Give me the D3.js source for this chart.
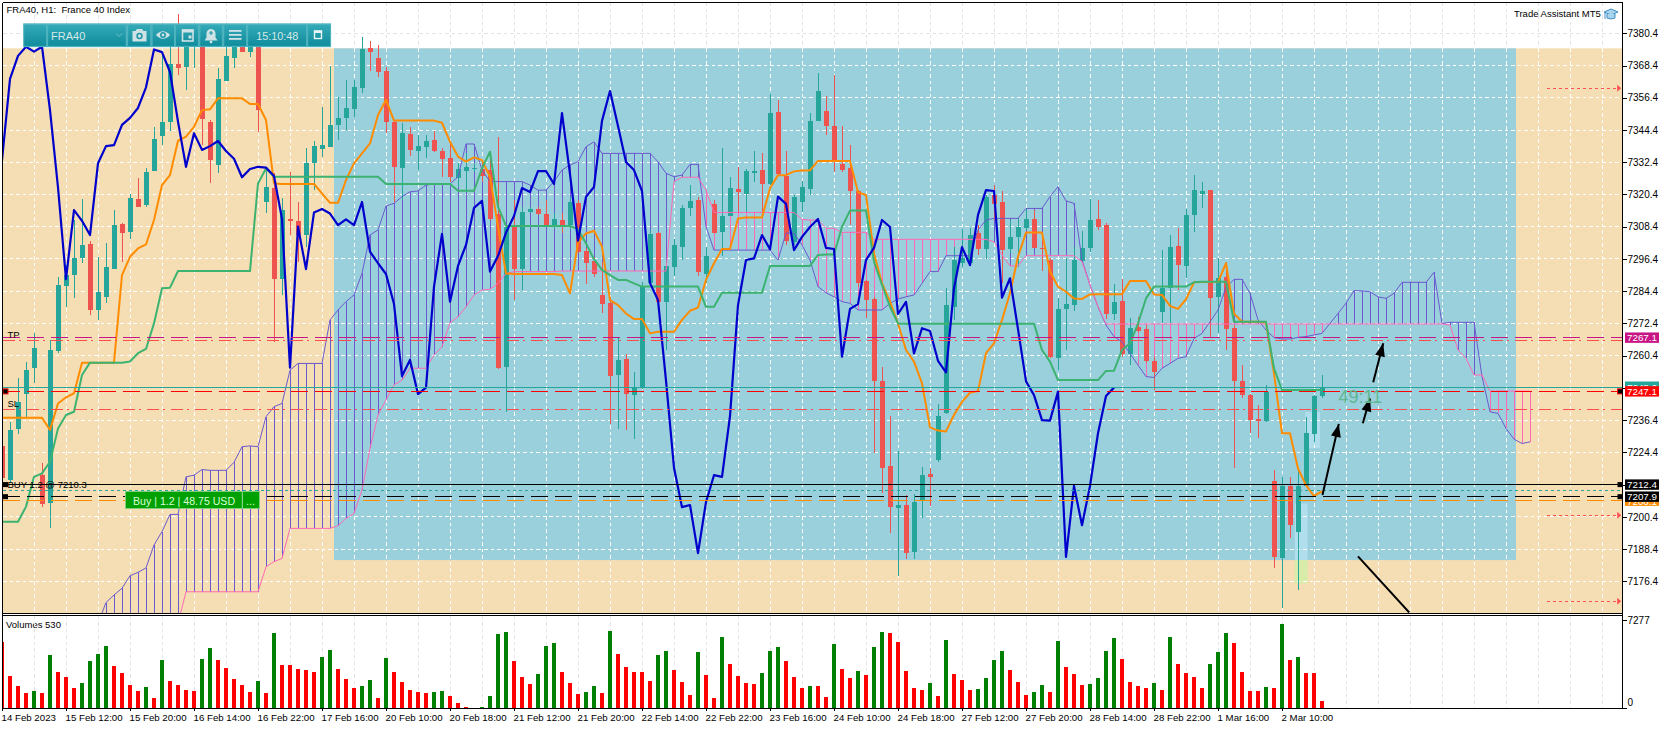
<!DOCTYPE html>
<html><head><meta charset="utf-8">
<script src="https://cdn.jsdelivr.net/npm/d3@7"></script>
<style>html,body{margin:0;padding:0;background:#fff;overflow:hidden}svg{display:block;font-family:"Liberation Sans",Arial,sans-serif}</style>
</head><body><svg id="c" width="1670" height="729"></svg>
<script>
const openV=[7226.7,7214.1,7233.1,7246.1,7255.7,7215.9,7205.4,7262.2,7286.4,7290.4,
7296.9,7302,7277.4,7282.3,7292.8,7309.4,7306.4,7318.6,7316.5,7329.1,
7342.3,7347.5,7368.8,7368,7376.7,7380.4,7347.5,7331.4,7362.8,7371.2,
7375.6,7373.3,7375.4,7317.6,7322.8,7288.9,7311.1,7310.5,7305.3,7332.2,
7337.4,7338.2,7346.3,7348.9,7352.3,7360,7374.8,7371.2,7366.4,7347.5,
7330.4,7342.8,7336.7,7338.2,7340.7,7336.6,7334,7326.7,7329.3,7330,
7329.9,7329.5,7313,7256.3,7308.4,7292.6,7313.9,7314.9,7313.1,7308.4,
7310.9,7309,7317.1,7299.5,7295.6,7283,7280.1,7253.2,7259.1,7245.7,
7248.2,7287.3,7305.9,7280.5,7293.5,7301,7315.2,7318.3,7290.8,7316.9,
7306.4,7312.4,7322.4,7320.6,7328.9,7329.5,7324.3,7351.1,7327.4,7302.8,
7317.6,7322.4,7347.8,7351.5,7345.9,7331.7,7330.3,7321.7,7288.2,7281.5,
7250.9,7219.3,7203.7,7204.8,7187.3,7206.6,7216.3,7221.5,7239,7278.6,
7294.8,7294.8,7305.9,7300,7320.2,7317.6,7300,7304.6,7307.9,7311.3,
7300.5,7296,7259.5,7277.8,7279.2,7295.6,7300.5,7311.3,7309,7275.9,
7280.7,7261.2,7271,7270.2,7258.4,7276.8,7285.5,7301.2,7293.8,7312.8,
7320.7,7322,7282.1,7289.8,7270.7,7250.9,7245.7,7236.7,7236,7213.7,
7185.2,7211.9,7194.9,7211.9,7231.2,7245.4];
const closeV=[7214.7,7232.7,7243,7255,7263.1,7205,7262.5,7286.7,7290.4,7296.6,
7301.6,7277.4,7284.1,7293.3,7309,7306.2,7319,7315.9,7328.8,7340.9,
7347.3,7368.8,7367.5,7380.4,7380.4,7348.6,7333.2,7363.4,7372,7375.4,
7373.6,7375.4,7351.8,7323,7288.9,7314.6,7310.6,7305.3,7332,7338.4,
7338.8,7346.3,7348.9,7352.6,7360.3,7374.4,7373.4,7366,7347.5,7330.7,
7343.2,7337,7338.4,7340.3,7336.6,7333.7,7326.8,7329.9,7330.7,7330.4,
7327.3,7311.3,7255.9,7308.4,7292.6,7313.7,7315,7313.3,7309,7311.1,
7309,7317.6,7299.1,7294.8,7290.8,7279.6,7252.8,7258.8,7246.1,7248.5,
7286.1,7305.7,7280.5,7293.8,7301.6,7315.4,7318,7291.7,7297.5,7306.2,
7312.4,7322.8,7321.3,7329.1,7329.1,7324.3,7350.7,7328,7303.2,7319.5,
7323.2,7347.8,7358.9,7345.9,7332.5,7329.5,7321.7,7287.4,7281.1,7251.1,
7218.7,7204,7204.8,7186.9,7205.9,7215.9,7215.3,7237.9,7279.2,7296,
7296.6,7305.3,7300,7319.6,7316.9,7299.7,7304.6,7308.3,7311.3,7300.5,
7300.1,7260,7277.8,7279.6,7296,7300.5,7310.9,7308.3,7275.9,7280.4,
7261.2,7270.6,7269.6,7258.5,7254.2,7285.5,7300.8,7294.1,7312.8,7322,
7321.7,7282,7289.2,7270.3,7250.9,7245.7,7236.4,7236.2,7247,7185.5,
7211.9,7197.3,7211.9,7231.5,7245.4,7248.5];
const highV=[7228,7235.6,7251.9,7258.1,7268.7,7220.3,7266.2,7289.8,7294.1,7310.9,
7318.6,7303.2,7297.2,7302.2,7314.6,7309.9,7320.4,7326.4,7330.1,7345.6,
7372.3,7375.4,7387.6,7381.6,7381.6,7381,7348.1,7367.4,7376.7,7380.4,
7380.4,7380.4,7379.1,7330.1,7328.3,7319,7328.9,7317.7,7337.6,7340.3,
7353.1,7368.2,7356.6,7363,7363,7379.1,7377.5,7376,7368,7348.1,
7346.9,7345.6,7342.5,7342.5,7344,7337.6,7339.4,7332,7335.7,7332,
7332,7336.3,7341.7,7308.4,7318.3,7315.9,7315.9,7315.9,7318.3,7313.4,
7313.4,7319.6,7318.3,7300.3,7297.2,7295.4,7282.3,7267.2,7261.2,7254.4,
7287.9,7307.2,7306.6,7296,7303.7,7316.5,7323.9,7319.6,7301,7318.3,
7337.6,7327,7330.7,7329.8,7336.6,7335.7,7357.8,7355.6,7336.6,7320.2,
7325.4,7350.9,7365.6,7357.1,7364.9,7345.9,7338.8,7322,7288.6,7282.3,
7256.2,7237.9,7224.9,7208.5,7208.9,7218.9,7218.6,7242.4,7285.5,7301,
7307.7,7307.8,7309,7320.2,7323.9,7321.7,7310.9,7311.5,7314.9,7314.6,
7305.9,7296.6,7281.7,7296.6,7301,7306.8,7318.6,7318.3,7309.7,7287.1,
7288.8,7274.3,7274.9,7271.8,7260,7299.7,7305.3,7307.8,7314.9,7327.6,
7325.2,7322,7296.6,7295.4,7271.8,7256.9,7246.3,7242,7249.5,7217.8,
7215.1,7215.1,7218.4,7237.7,7245.7,7253.2];
const lowV=[7213,7213,7231.1,7237.7,7250.4,7204.2,7196.1,7261.5,7278.6,7282,
7294.8,7275.5,7273.7,7280.1,7292.8,7295.4,7304,7315.6,7315.9,7329.1,
7338.8,7344.1,7365,7359.3,7367.4,7338.8,7324.8,7328.3,7362.8,7367.4,
7373.4,7371.7,7343.8,7313.4,7265.6,7283,7305.3,7295.4,7301,7322,
7334.5,7338.2,7340.7,7344.4,7349.4,7358,7366.5,7364,7343.4,7317.7,
7318.3,7334.8,7329.5,7333.8,7336.3,7327,7325.2,7323.3,7321.4,7328.9,
7325.2,7310.9,7255.4,7239.5,7281.1,7284.8,7313.4,7312.8,7308.4,7307.7,
7305.9,7307.2,7298.5,7287.1,7289.8,7276.1,7234.8,7233.1,7232.7,7229.4,
7248,7286.1,7279.2,7262.5,7290,7296,7312.4,7290,7287.3,7305.9,
7297.5,7312.4,7313.4,7313.4,7324.9,7314,7323.9,7327.6,7301.6,7301.6,
7314,7320.2,7347.8,7342.5,7328.8,7328.8,7309,7286.1,7274.4,7224.1,
7209.2,7194.4,7178.5,7184.7,7184.7,7199.9,7204.4,7220.8,7238.8,7273.7,
7293.5,7294.1,7297.9,7296.3,7310.9,7287.3,7298.5,7293.5,7307.2,7300.3,
7292,7259.4,7255,7262.5,7277.1,7295.4,7299.1,7307.2,7274,7273.7,
7260,7256.9,7268.7,7257.5,7247.6,7272.4,7272.4,7284.8,7289.2,7306.6,
7315.5,7267.5,7268.7,7262.5,7218.4,7244.5,7231.5,7229.8,7235.6,7181.4,
7166.6,7192.6,7173.1,7211.9,7228.3,7244.5];
const tenkan=[7237.3,7237.3,7237.3,7237.3,7237.3,7237.3,7232.7,7242.6,7244.9,7246.4,
7257.8,7257.8,7257.8,7257.8,7257.8,7290.4,7297.2,7300.3,7301.8,7310.9,
7323.9,7327.6,7340.4,7341.9,7345.6,7351.8,7352.1,7356.2,7356.2,7356.2,
7356.2,7354.1,7354.1,7348.1,7324.5,7324.3,7324.3,7324.3,7324.3,7324.3,
7320.8,7317.3,7317.3,7325.8,7332,7335.7,7339.4,7350,7355.6,7347.9,
7347.9,7347.9,7347.9,7347.9,7347.9,7347.1,7340,7334.5,7332.6,7334.2,
7333.2,7327,7308.4,7291,7290.8,7290.8,7290.8,7290.8,7290.8,7290.8,
7290.4,7283.6,7302.5,7305.9,7306.9,7301,7281.1,7279.2,7276.1,7274,
7274,7268.7,7269.3,7269.3,7269.3,7273.7,7277.1,7278.3,7288.6,7294.8,
7300.1,7300.1,7311.5,7311.8,7311.8,7311.8,7322.7,7327.6,7327.6,7329,
7329.3,7329.4,7332.9,7332.9,7332.9,7332.9,7332.9,7321.2,7320.2,7298.5,
7287.3,7280.5,7272.4,7262.5,7258.2,7250.1,7233.7,7232.5,7232.2,7238.3,
7243.2,7246.6,7247.2,7261.3,7265,7273.7,7283.6,7297.2,7306.2,7306.2,
7306.2,7291.7,7286.1,7284.2,7281.7,7281.5,7283.2,7283.3,7283.3,7283.3,
7283.3,7288.2,7288.2,7288.2,7283.2,7283,7278.9,7277.8,7281.4,7287.7,
7287.8,7287.8,7287.8,7294.8,7276.1,7273,7273,7273,7272.7,7253.8,
7231.5,7231.5,7218.4,7212.2,7208.1,7210];
const kijun=[7198.6,7198.6,7198.6,7204.2,7215.3,7216.6,7220.9,7233.3,7238.3,7239.5,
7253.2,7257.8,7257.8,7257.8,7257.8,7257.8,7258.2,7261.3,7262.9,7272.4,
7285.5,7285.7,7291.9,7291.9,7291.9,7291.9,7291.9,7291.9,7291.9,7291.9,
7291.9,7291.9,7324.5,7330.1,7327,7327,7327,7327,7327,7327,
7327,7327,7327,7327,7327,7327,7327,7327,7324.3,7324.3,
7324.3,7324.3,7324.3,7324.3,7324.3,7324.3,7324.3,7321.8,7321.8,7321.8,
7330.1,7336.3,7315.9,7308.7,7308.7,7308.7,7308.7,7308.7,7308.7,7308.7,
7308.7,7308.7,7307.4,7302.2,7296.3,7292.3,7290.4,7288.6,7288.6,7287.3,
7286.1,7286.1,7286.1,7286.1,7286.1,7286.1,7286.1,7286.1,7278.6,7278.6,
7283.8,7283.8,7283.8,7283.8,7283.8,7283.8,7293.8,7293.8,7293.8,7293.8,
7293.8,7293.8,7297.9,7298.1,7298.1,7308.4,7314.4,7314.4,7314.4,7295.4,
7286.7,7278.6,7272.4,7272.3,7272.3,7272.3,7272.3,7272.3,7272.3,7272.3,
7272.3,7272.3,7272.3,7272.3,7272.3,7272.3,7272.3,7272.3,7272.3,7272.3,
7262.5,7258.2,7251.3,7251.3,7251.3,7251.3,7251.3,7251.3,7254.7,7254.8,
7262.5,7265,7272.4,7281.7,7286.1,7286.1,7286.1,7286.1,7286.1,7287.7,
7287.9,7287.9,7287.9,7287.9,7273,7273,7273,7273,7273,7255.7,
7247.6,7247.6,7247.6,7247.6,7247.6,7247.6];
const chikou=[7333.2,7363.4,7372,7375.4,7373.6,7375.4,7351.8,7323,7288.9,7314.6,
7310.6,7305.3,7332,7338.4,7338.8,7346.3,7348.9,7352.6,7360.3,7374.4,
7373.4,7366,7347.5,7330.7,7343.2,7337,7338.4,7340.3,7336.6,7333.7,
7326.8,7329.9,7330.7,7330.4,7327.3,7311.3,7255.9,7308.4,7292.6,7313.7,
7315,7313.3,7309,7311.1,7309,7317.6,7299.1,7294.8,7290.8,7279.6,
7252.8,7258.8,7246.1,7248.5,7286.1,7305.7,7280.5,7293.8,7301.6,7315.4,
7318,7291.7,7297.5,7306.2,7312.4,7322.8,7321.3,7329.1,7329.1,7324.3,
7350.7,7328,7303.2,7319.5,7323.2,7347.8,7358.9,7345.9,7332.5,7329.5,
7321.7,7287.4,7281.1,7251.1,7218.7,7204,7204.8,7186.9,7205.9,7215.9,
7215.3,7237.9,7279.2,7296,7296.6,7305.3,7300,7319.6,7316.9,7299.7,
7304.6,7308.3,7311.3,7300.5,7300.1,7260,7277.8,7279.6,7296,7300.5,
7310.9,7308.3,7275.9,7280.4,7261.2,7270.6,7269.6,7258.5,7254.2,7285.5,
7300.8,7294.1,7312.8,7322,7321.7,7282,7289.2,7270.3,7250.9,7245.7,
7236.4,7236.2,7247,7185.5,7211.9,7197.3,7211.9,7231.5,7245.4,7248.5];
// Span arrays start at bar 12 and run to bar 191
const spanStart=12;
const spanA=[7160.7,7168.5,7171.3,7173.8,7178.5,7179.7,7181.4,7189.9,
7194.9,7201.3,7201.3,7215.3,7215.9,7218,7217.7,7217.7,7217.7,7220.7,
7226.5,7226.8,7226.5,7237.7,7241.4,7242.6,7255,7257.5,7257.5,7257.5,
7257.5,7273.7,7277.4,7280.5,7283,7291,7305.3,7307.2,7316.1,7317.1,
7319.6,7321.4,7321.7,7323.9,7324.3,7324.3,7324.3,7327,7339.2,7339.2,
7329.5,7325.2,7325.2,7325.2,7325.2,7325.2,7323.9,7322,7322,7325.2,
7329.5,7331.4,7332.6,7338.2,7340,7335.7,7335.7,7335.7,7335.7,7335.7,7335.7,7335.7,
7332.6,7328.3,7327,7327.6,7331.6,7331.6,7308.4,7299.7,
7299.7,7299.7,7299.7,7299.7,7299.7,7299.7,7299.7,7296,7306,7306,
7301.6,7296,7286.1,7283.8,7282.3,7280.5,7279.9,7277.4,7277.4,7277.4,
7277.4,7279.9,7281.5,7282.3,7283,7287.3,7291.7,7291.7,7297.6,7297.6,
7297.6,7297.6,7307.2,7310.9,7311.5,7311.5,7311.5,7311.5,7315.2,7315.2,
7315.2,7319.6,7323.3,7318,7317.1,7296,7286.7,7278.6,7271.8,7267.5,
7265.6,7261.2,7256.9,7252.6,7252.3,7255.7,7257.5,7259.4,7260,7266.8,
7268.7,7273,7277.4,7285.8,7288.8,7288.8,7283.6,7273.7,7269.9,7267.1,
7266.6,7266.6,7267.2,7267.5,7268.1,7268.7,7272.4,7276.1,7279.9,7284.6,
7284.5,7284.2,7282.3,7281.7,7283.6,7287.7,7287.7,7287.7,7287.7,7291.4,
7272.4,7272.8,7272.8,7272.8,7272.8,7252.6,7239.5,7238.9,7233.3,7229.3,
7227.7,7228.3];
const spanB=[7150,7150,7150,7150,7150,7150,7150,7150,
7150,7150,7160.7,7172.5,7172.5,7172.5,7172.5,7172.5,7172.5,7172.5,
7172.5,7172.5,7172.5,7181.8,7183.7,7184.9,7196.1,7196.1,7196.1,7196.1,
7196.1,7196.1,7197.1,7199.8,7201.7,7210.4,7225.9,7238.3,7243.9,7249.5,
7251.3,7255.7,7255.7,7255.7,7260.6,7263.7,7272.7,7274.9,7278.6,7283,
7284.8,7285.1,7287.3,7291,7291.7,7291.7,7291.7,7291.7,7291.7,7291.7,
7291.9,7291.9,7291.9,7291.9,7291.9,7291.9,7291.9,7291.9,7291.9,7291.9,7291.9,7291.9,
7291.9,7291.9,7325.2,7326.8,7326.8,7326.8,7322,7313.7,
7313.7,7313.7,7313.7,7313.7,7313.7,7313.7,7313.7,7313.7,7313.7,7313.7,
7311.1,7310.9,7310.9,7307.8,7307.8,7306.3,7306.3,7306.3,7306.3,7303.7,
7303.7,7303.7,7303.7,7303.7,7303.7,7303.7,7303.7,7303.7,7303.7,7303.7,
7303.7,7303.7,7303.7,7303.7,7302.8,7297.9,7293.8,7293.8,7297.6,7297.6,
7297.6,7297.6,7297.6,7297.6,7297.6,7295.4,7286.7,7278.6,7272.2,7272.2,
7272.2,7272.2,7272.2,7272.2,7272.2,7272.2,7272.2,7272.2,7272.2,7272.2,
7272.2,7272.2,7272.2,7272.2,7272.2,7272.2,7272.2,7272.2,7272.2,7272.2,
7272.2,7272.2,7272.2,7272.2,7272.2,7272.2,7272.2,7272.2,7272.2,7272.2,
7272.2,7272.2,7272.2,7272.2,7272.2,7272.2,7272.2,7272.2,7272.2,7272.2,
7272.2,7271.8,7262.5,7259.4,7253.2,7253.2,7247.2,7247.2,7247.2,7247.2,
7247.2,7247.2];
const volumes=[5490,2660,1840,1260,1430,1260,4390,2990,2580,1680,
2090,3900,4480,5140,3490,2910,1920,1430,1760,850,
3980,2250,1920,1510,1430,4060,4970,3980,3320,2420,
1920,1350,2250,1260,6210,3570,3560,3240,3160,2990,
4230,4810,3240,2420,1680,1840,2330,850,4150,2990,
2170,1510,1350,1260,1350,1430,1020,440,110,10,
110,1020,6120,6290,3900,2580,2000,2830,5140,5380,
2990,2090,1180,1350,1840,1260,6370,4480,3410,2990,
2980,2250,4390,4720,3160,2170,1100,4640,2750,850,
5880,3650,2660,2090,2000,2910,4720,5050,3900,2580,
1680,1840,1835,930,5300,3240,2500,3080,2750,5050,
6290,6210,5460,3080,1680,1510,2090,1020,5630,2830,
2330,1510,1590,2500,3980,4720,3160,2170,1100,1350,
1920,1350,5550,3410,2830,1920,2000,2500,4720,5790,
4060,2170,1840,1680,2090,1510,5880,3650,2910,2580,
1680,3650,4640,6210,5380,2990,1430,1425,1760,1680,
6950,3980,4230,2910,2905,600];
const priceTicks=[7380.4,7368.4,7356.4,7344.4,7332.4,7320.4,7308.4,7296.4,7284.4,7272.4,7260.4,7248.4,7236.4,7224.4,7212.4,7200.4,7188.4,7176.4];
const timeLabels=["14 Feb 2023","15 Feb 12:00","15 Feb 20:00","16 Feb 14:00","16 Feb 22:00","17 Feb 16:00","20 Feb 10:00","20 Feb 18:00","21 Feb 12:00","21 Feb 20:00","22 Feb 14:00","22 Feb 22:00","23 Feb 16:00","24 Feb 10:00","24 Feb 18:00","27 Feb 12:00","27 Feb 20:00","28 Feb 14:00","28 Feb 22:00","1 Mar 16:00","2 Mar 10:00"];
const levels={tp:7267.1,tpMark:7266.2,sl:7240.4,bid:7248.5,ask:7247.1,buy:7212.4,be:7210.1,pend:7207.9,orange:7206.3};

const L=3,R=1622.5,T=2.5,MB=613,VT=615.5,VB=708.3;
const svg=d3.select('#c');
const x=d3.scaleLinear().domain([0,1]).range([2,10]);
const y=d3.scaleLinear().domain([7176.4,7380.4]).range([581.3,33.3]);
const yv=d3.scaleLinear().domain([0,7277]).range([VB,620]);
const defs=svg.append('defs');
defs.append('clipPath').attr('id','main').append('rect').attr('x',L).attr('y',T).attr('width',R-L).attr('height',MB-T);
defs.append('clipPath').attr('id','vol').append('rect').attr('x',L).attr('y',VT).attr('width',R-L).attr('height',VB-VT);
const grad=defs.append('linearGradient').attr('id','tb').attr('x1',0).attr('x2',0).attr('y1',0).attr('y2',1);
grad.append('stop').attr('offset',0).attr('stop-color','#35aab8');
grad.append('stop').attr('offset',1).attr('stop-color','#0f8c9c');
const m=svg.append('g').attr('clip-path','url(#main)');

// backgrounds
const rectTop=7374.8, rectBottom=7184.3;
m.append('rect').attr('x',L).attr('y',y(rectTop)).attr('width',R-L).attr('height',MB-y(rectTop)).attr('fill','#f5deb3');
m.append('rect').attr('x',x(41.5)).attr('y',y(rectTop)).attr('width',x(189.25)-x(41.5)).attr('height',y(rectBottom)-y(rectTop)).attr('fill','#9acfdc');
// pale boxes
const box=(a,b,p1,p2,c)=>m.append('rect').attr('x',x(a)).attr('width',x(b)-x(a)).attr('y',y(p1)).attr('height',y(p2)-y(p1)).attr('fill',c);
box(161.6,163.2,7205.4,rectBottom,'#b0deec');
box(161.6,163.2,rectBottom,7175.6,'#d8ecaa');
box(162.9,164.75,7239.5,7225.9,'#b0deec');

// grid
const vIdx=d3.range(0,203,4);
const grid=(x1,x2,y1,y2,c)=>m.append('line').attr('x1',x1).attr('x2',x2).attr('y1',y1).attr('y2',y2).attr('stroke',c).attr('stroke-width',1).attr('stroke-dasharray','3.5,3').attr('shape-rendering','crispEdges');
vIdx.forEach(i=>{grid(x(i),x(i),T,y(rectTop),'#e4e4e4');grid(x(i),x(i),y(rectTop),MB,'#ffffff');});
priceTicks.forEach(p=>grid(L,R,y(p),y(p),p>rectTop?'#e4e4e4':'#ffffff'));

// cloud hatch
const UP='#6a5acd',DN='#ff69b4';
spanA.forEach((a,k)=>{const i=k+spanStart,b=spanB[k];
 if(i<13)return;
 m.append('line').attr('x1',x(i)).attr('x2',x(i)).attr('y1',y(a)).attr('y2',y(b)).attr('stroke',a>=b?UP:DN).attr('stroke-width',1).attr('shape-rendering','crispEdges');});

// candles
const G='#26a69a',Rd='#ef5350';
openV.forEach((o,i)=>{const c=closeV[i],col=c>=o?G:Rd;
 m.append('line').attr('x1',x(i)).attr('x2',x(i)).attr('y1',y(highV[i])).attr('y2',y(lowV[i])).attr('stroke',col).attr('stroke-width',1).attr('shape-rendering','crispEdges');
 const top=y(Math.max(o,c)),bot=y(Math.min(o,c));
 m.append('rect').attr('x',x(i)-2.5).attr('width',5).attr('y',top).attr('height',Math.max(bot-top,1.5)).attr('fill',col).attr('shape-rendering','crispEdges');});

// indicator lines
const line=d3.line().x(d=>x(d[0])).y(d=>y(d[1])).defined(d=>d[1]!=null);
const drawLine=(arr,start,col,w)=>m.append('path').attr('d',line(arr.map((v,k)=>[k+start,v]))).attr('fill','none').attr('stroke',col).attr('stroke-width',w).attr('stroke-linejoin','round');
drawLine(spanA,spanStart,UP,1);
drawLine(spanB.slice(10),spanStart+10,DN,1);
drawLine(tenkan,0,'#ff8c00',2);
drawLine(kijun,0,'#3cb371',2);
drawLine(chikou,0,'#0000cd',2.2);

// horizontal trade levels
const hl=(p,c,dash,w)=>m.append('line').attr('x1',L).attr('x2',R).attr('y1',y(p)).attr('y2',y(p)).attr('stroke',c).attr('stroke-width',w||1).attr('stroke-dasharray',dash||null).attr('shape-rendering','crispEdges');
const DD='11.5,4,2,6.5';
hl(levels.tp,'#c71585','17,7');
hl(levels.tpMark,'#ff4d4d',DD);
hl(levels.bid,'#26a69a');
hl(levels.ask,'#ff0000','17,7');
hl(levels.sl,'#ff4d4d',DD);
hl(levels.buy,'#000000');
hl(levels.be,'#26a69a','3,3');
hl(levels.pend,'#000000','17,7');
hl(levels.orange,'#ff8c00','17,7');

// arrows (bar, price)
const arrow=(a,pa,b,pb,head)=>{const x1=x(a),y1=y(pa),x2=x(b),y2=y(pb);
 m.append('line').attr('x1',x1).attr('y1',y1).attr('x2',x2).attr('y2',y2).attr('stroke','#000').attr('stroke-width',2);
 if(!head)return;const ang=Math.atan2(y2-y1,x2-x1),l=13,w=5;
 const bx=x2-l*Math.cos(ang),by=y2-l*Math.sin(ang),nx=-Math.sin(ang),ny=Math.cos(ang);
 m.append('polygon').attr('points',`${x2},${y2} ${bx+nx*w},${by+ny*w} ${bx+nx*-w+0},${by+ny*-w}`).attr('fill','#000');};
arrow(165.06,7208.5,167.1,7235,true);
arrow(170.1,7235.2,171,7244.5,true);
arrow(171.4,7250.5,172.65,7265,true);
arrow(169.5,7185.7,175.9,7164.8,false);

// red dotted forecast arrows
[7359.9,7201,7169].forEach(p=>{
 m.append('line').attr('x1',x(193.1)).attr('x2',x(202.1)).attr('y1',y(p)).attr('y2',y(p)).attr('stroke','#ff5050').attr('stroke-width',1).attr('stroke-dasharray','3,3').attr('shape-rendering','crispEdges');
 m.append('polygon').attr('points',`${x(202.4)},${y(p)} ${x(202.4)-4},${y(p)-3.5} ${x(202.4)-4},${y(p)+3.5}`).attr('fill','#ff5050');});

// countdown text
svg.append('text').attr('x',1338.5).attr('y',403).attr('font-size',18).attr('fill','#5cb68f').text('49:11');

// labels in chart
const txt=(t,xx,yy,fs,c,a)=>svg.append('text').attr('x',xx).attr('y',yy).attr('font-size',fs||9.5).attr('fill',c||'#000').attr('text-anchor',a||'start').attr('dominant-baseline','central').text(t);
txt('FRA40, H1:  France 40 Index',6.5,9.5,9.5).attr('style','white-space:pre');
txt('Trade Assistant MT5',1514,13.3,9.5);
txt('TP',7.5,334.5);
txt('SL',7.5,403.5);
txt('BUY 1.2 @ 7210.3',7.5,484.5);
txt('Volumes 530',6,624.5);

// cap icon
const cap=svg.append('g').attr('transform','translate(1611,14)');
cap.append('path').attr('d','M-7,-2 L0,-5 L7,-2 L0,1 Z').attr('fill','#a8d4ee').attr('stroke','#3f8fc6');
cap.append('path').attr('d','M-4,0 L-4,4 Q0,6 4,4 L4,0').attr('fill','#a8d4ee').attr('stroke','#3f8fc6');
cap.append('line').attr('x1',-6).attr('x2',-6).attr('y1',-2).attr('y2',5).attr('stroke','#3f8fc6');

// buy button
const bx=svg.append('g');
bx.append('rect').attr('x',125.5).attr('y',491.5).attr('width',134).attr('height',17).attr('fill','#00a000').attr('stroke','#7fcf7f');
bx.append('line').attr('x1',242.3).attr('x2',242.3).attr('y1',492).attr('y2',508).attr('stroke','#9fdf9f');
bx.append('text').attr('x',133).attr('y',500.5).attr('font-size',10.6).attr('fill','#d8ffd8').attr('dominant-baseline','central').text('Buy | 1.2 | 48.75 USD');
bx.append('text').attr('x',250.5).attr('y',500.5).attr('font-size',10.6).attr('fill','#d8ffd8').attr('text-anchor','middle').attr('dominant-baseline','central').text('...');

// level squares
[[levels.ask,'#ff0000'],[levels.buy,'#000'],[levels.pend,'#000']].forEach(([p,c])=>{
 [3,1617.5].forEach(xx=>{svg.append('rect').attr('x',xx).attr('y',y(p)-2.5).attr('width',5).attr('height',5).attr('fill','#000').attr('stroke',c==='#000'?'none':'#ff0000');});});

// volumes
const vg=svg.append('g').attr('clip-path','url(#vol)');
vIdx.forEach(i=>vg.append('line').attr('x1',x(i)).attr('x2',x(i)).attr('y1',VT).attr('y2',VB).attr('stroke','#e4e4e4').attr('stroke-dasharray','3.5,3').attr('shape-rendering','crispEdges'));
volumes.forEach((v,i)=>{const up=i>0&&v>volumes[i-1];
 vg.append('rect').attr('x',x(i)-2).attr('width',4).attr('y',yv(v)).attr('height',yv(0)-yv(v)).attr('fill',up?'#008000':'#ff0000').attr('shape-rendering','crispEdges');});

// frames
const fr=(a,b,c,d,w)=>svg.append('line').attr('x1',a).attr('y1',b).attr('x2',c).attr('y2',d).attr('stroke','#000').attr('stroke-width',w||1).attr('shape-rendering','crispEdges');
fr(2.5,T,R,T);fr(2.5,T,2.5,VB);fr(R,T,R,VB);fr(2.5,MB,R,MB);fr(2.5,VT,R,VT);fr(2.5,VB,R,VB);

// axes
const yAxis=d3.axisRight(y).tickValues(priceTicks).tickFormat(d3.format('.1f')).tickSize(4).tickPadding(1);
const ya=svg.append('g').attr('transform',`translate(${R},0)`).call(yAxis);
const vAxis=d3.axisRight(yv).tickValues([0,7277]).tickFormat(d3.format('d')).tickSize(4).tickPadding(1);
const va=svg.append('g').attr('transform',`translate(${R},0)`).call(vAxis);
const xAxis=d3.axisBottom(x).tickValues(timeLabels.map((_,k)=>k*8)).tickFormat((d,k)=>timeLabels[k]).tickSize(3).tickPadding(1);
const xa=svg.append('g').attr('transform',`translate(0,${VB})`).call(xAxis);
[ya,va,xa].forEach(g=>{g.select('.domain').remove();g.selectAll('text').attr('font-size',10).attr('font-family','"Liberation Sans",Arial,sans-serif').attr('fill','#000');g.selectAll('line').attr('stroke','#000').attr('shape-rendering','crispEdges');});
xa.selectAll('text').attr('font-size',9.7).attr('text-anchor','start').attr('dx',-1).attr('dy',0).attr('y',12.5);
va.selectAll('.tick text').attr('dy','.32em');
va.selectAll('.tick').filter(d=>d===0).select('text').attr('dy','-.25em');

// price tags
const tags=[[7248.6,'#26a69a',386.7],[7206.1,'#ff8c00',500.7],[7267.1,'#c71585'],[7247.1,'#ff0000'],[7212.4,'#000'],[7207.9,'#000']];
tags.forEach(([p,c,yy])=>{const cy=yy||y(p);
 svg.append('rect').attr('x',1625).attr('y',cy-5.2).attr('width',34).attr('height',10.4).attr('fill',c);
 svg.append('text').attr('x',1627).attr('y',cy+.3).attr('font-size',9.8).attr('fill','#fff').attr('dominant-baseline','central').text(p.toFixed(1));});

// toolbar
const tb=svg.append('g');
const sx=z=>z/2.8,sy=70/3,sh=70/3;
tb.append('rect').attr('x',sx(65)).attr('y',sy).attr('width',sx(862)).attr('height',sh+0.5).attr('fill','#4bb0bc');
const seg=[[67,130],[134,353],[358,422],[426,488],[492,555],[560,622],[627,690],[694,858],[862,925]];
seg.forEach(([a,b])=>tb.append('rect').attr('x',sx(a)).attr('y',sy+1).attr('width',sx(b-a)).attr('height',sh-1.5).attr('fill','url(#tb)').attr('stroke','#57b9c4').attr('stroke-width',.6));
const ic='#cfe3e6';
tb.append('text').attr('x',sx(143)).attr('y',sy+sh/2+.5).attr('font-size',11).attr('fill','#d5e8ea').attr('dominant-baseline','central').text('FRA40');
tb.append('path').attr('d',`M${sx(325)},33.5 l3,3 l3,-3`).attr('fill','none').attr('stroke','#6fc0c9').attr('stroke-width',1);
// camera
tb.append('path').attr('d','M132.5,31 h3 l1.5,-2 h5 l1.5,2 h3 v10.5 h-14 z').attr('fill',ic);
tb.append('circle').attr('cx',139.5).attr('cy',36).attr('r',3.2).attr('fill','#1f97a6');
tb.append('circle').attr('cx',139.5).attr('cy',36).attr('r',1.7).attr('fill',ic);
// eye
tb.append('path').attr('d','M156,35 Q163,27.5 170,35 Q163,42.5 156,35 Z').attr('fill',ic);
tb.append('circle').attr('cx',163).attr('cy',35).attr('r',3).attr('fill','#1f97a6');
tb.append('circle').attr('cx',163).attr('cy',35).attr('r',1.4).attr('fill',ic);
// calendar
tb.append('rect').attr('x',182.5).attr('y',30).attr('width',10.5).attr('height',11).attr('fill','none').attr('stroke',ic).attr('stroke-width',1.6);
tb.append('rect').attr('x',182).attr('y',29.5).attr('width',11.5).attr('height',3).attr('fill',ic);
tb.append('rect').attr('x',188.5).attr('y',35.5).attr('width',3).attr('height',3).attr('fill',ic);
// bell
tb.append('path').attr('d','M204.5,40.5 h13 l-2,-3 v-4 a4.5,4.5 0 0 0 -9,0 v4 z').attr('fill',ic);
tb.append('circle').attr('cx',211).attr('cy',42).attr('r',1.4).attr('fill',ic);
tb.append('path').attr('d','M211,31 v4 M209,33 h4').attr('stroke','#1f97a6').attr('stroke-width',1.1);
// menu
[31,35,39].forEach(v=>tb.append('rect').attr('x',229).attr('y',v-1).attr('width',12.5).attr('height',1.8).attr('fill',ic));
tb.append('text').attr('x',sx(776)).attr('y',sy+sh/2+.5).attr('font-size',10.8).attr('fill','#d5e8ea').attr('text-anchor','middle').attr('dominant-baseline','central').text('15:10:48');
tb.append('rect').attr('x',314.5).attr('y',31).attr('width',7).attr('height',7.5).attr('fill','none').attr('stroke','#eaf4f5').attr('stroke-width',1.4);
tb.append('rect').attr('x',314).attr('y',30.5).attr('width',8).attr('height',2.5).attr('fill','#eaf4f5');
</script></body></html>
